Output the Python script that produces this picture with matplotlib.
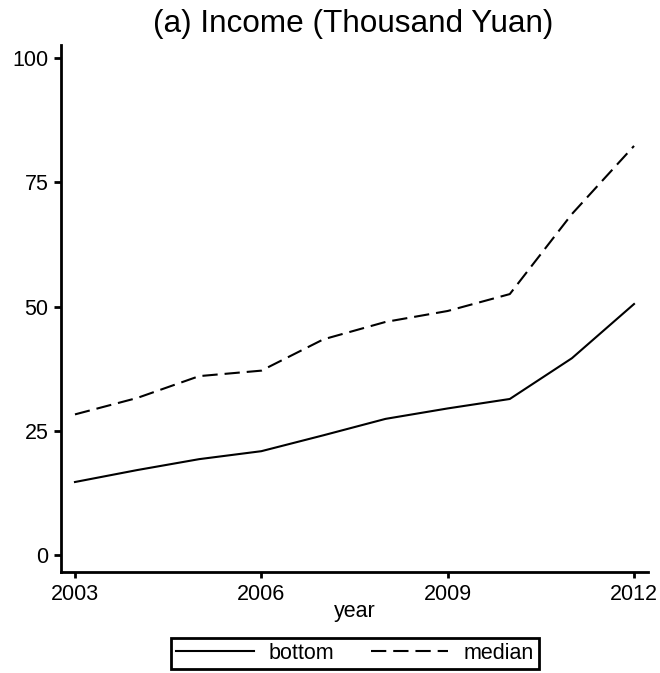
import matplotlib
matplotlib.use("Agg")
import matplotlib.pyplot as plt

# Income by group, thousand yuan
years = [2003, 2004, 2005, 2006, 2007, 2008, 2009, 2010, 2011, 2012]
bottom = [14.7, 17.1, 19.3, 20.9, 24.1, 27.4, 29.5, 31.4, 39.6, 50.5]
median = [28.3, 31.6, 36.0, 37.1, 43.4, 46.9, 49.1, 52.5, 68.6, 82.3]

x_ticks = [2003, 2006, 2009, 2012]
y_ticks = [0, 25, 50, 75, 100]

plt.rcParams["font.family"] = ["Liberation Sans", "DejaVu Sans"]
plt.rcParams["lines.scale_dashes"] = False

W, H = 660, 673
fig = plt.figure(figsize=(W / 100, H / 100), dpi=100)
ax = fig.add_axes([61 / W, 1 - 572 / H, (648 - 61) / W, (572 - 45) / H])

ax.plot(years, bottom, color="black", lw=1.5, label="bottom")
ax.plot(years, median, color="black", lw=1.5, linestyle=(0, (11, 5)), label="median")

ax.set_xlim(2002.775, 2012.225)
ax.set_ylim(-3.4, 102.6)
ax.set_xticks(x_ticks)
ax.set_yticks(y_ticks)
ax.set_xticklabels([str(v) for v in x_ticks])
ax.set_yticklabels([str(v) for v in y_ticks])

for side in ("top", "right"):
    ax.spines[side].set_visible(False)
for side in ("left", "bottom"):
    ax.spines[side].set_linewidth(2)
    ax.spines[side].set_color("black")

ax.tick_params(axis="y", length=5, width=2, pad=4, labelsize=15.5)
ax.tick_params(axis="x", length=4, width=2, pad=5, labelsize=15.5)

fig.text(353 / W, 1 - 24 / H, "(a) Income (Thousand Yuan)", ha="center", va="center", fontsize=22.7)
fig.text(355 / W, 1 - 612 / H, "year", ha="center", va="center", fontsize=15.5)

leg = fig.legend(loc="center", bbox_to_anchor=(355 / W, 1 - 653.5 / H), ncol=2,
                 frameon=True, fancybox=False, framealpha=1, fontsize=15.5,
                 handlelength=3.6, handletextpad=0.7, columnspacing=1.7,
                 borderpad=0.25, borderaxespad=0)
leg.get_frame().set_edgecolor("black")
leg.get_frame().set_linewidth(2)

fig.savefig("out.png", dpi=100, facecolor="white")
